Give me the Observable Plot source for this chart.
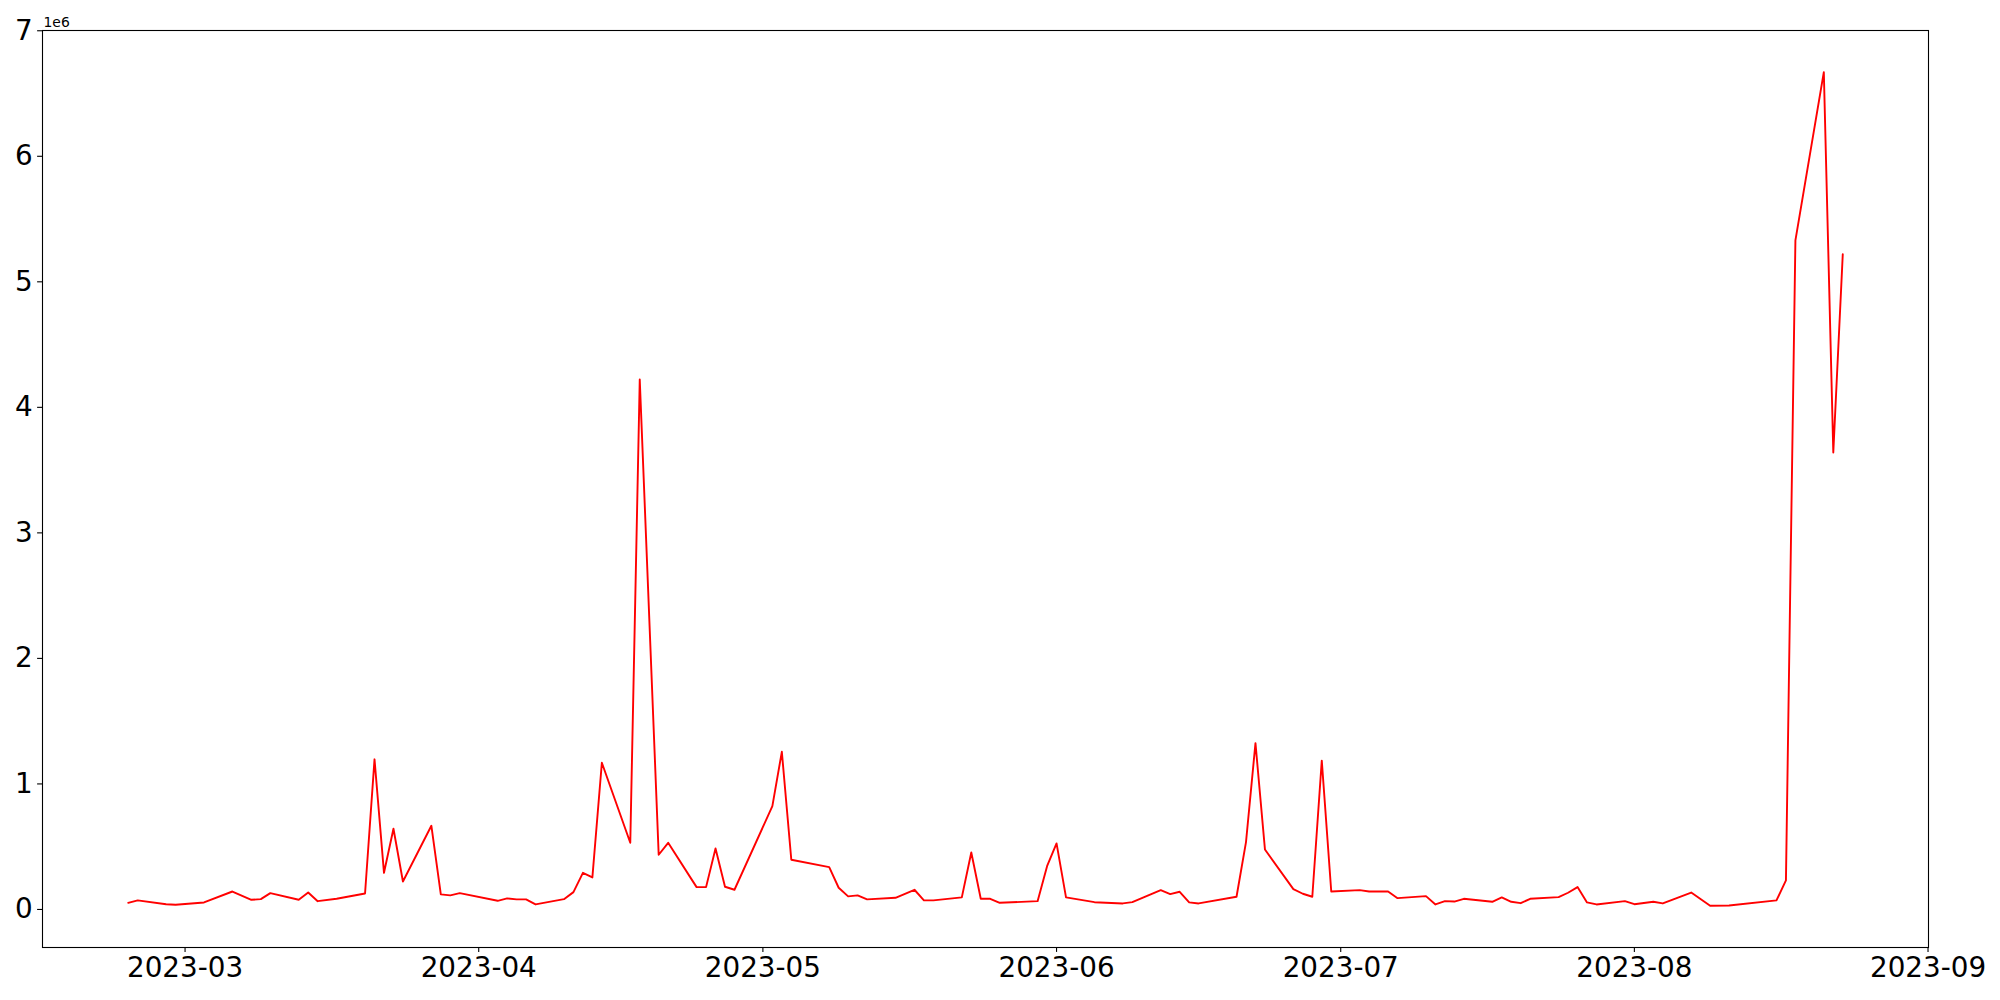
<!DOCTYPE html>
<html>
<head>
<meta charset="utf-8">
<script src="https://cdn.jsdelivr.net/npm/d3@7"></script>
<script src="https://cdn.jsdelivr.net/npm/@observablehq/plot@0.6"></script>
<style>
  html, body { margin: 0; padding: 0; background: #fff; }
  #chart svg { display: block; }
</style>
</head>
<body>
<div id="chart"></div>
<script>
// Dates of observations (weekday samples visible as vertices in the line)
const dates = [
  "2023-02-23","2023-02-24","2023-02-27","2023-02-28","2023-03-03","2023-03-06","2023-03-08","2023-03-09","2023-03-10",
  "2023-03-13","2023-03-14","2023-03-15","2023-03-17","2023-03-20","2023-03-21","2023-03-22","2023-03-23","2023-03-24",
  "2023-03-27","2023-03-28","2023-03-29","2023-03-30","2023-04-03","2023-04-04","2023-04-05","2023-04-06","2023-04-07",
  "2023-04-10","2023-04-11","2023-04-12","2023-04-13","2023-04-14","2023-04-17","2023-04-18","2023-04-20","2023-04-21",
  "2023-04-24","2023-04-25","2023-04-26","2023-04-27","2023-04-28","2023-05-02","2023-05-03","2023-05-04","2023-05-08",
  "2023-05-09","2023-05-10","2023-05-11","2023-05-12","2023-05-15","2023-05-17","2023-05-18","2023-05-19","2023-05-22",
  "2023-05-23","2023-05-24","2023-05-25","2023-05-26","2023-05-30","2023-05-31","2023-06-01","2023-06-02","2023-06-05",
  "2023-06-08","2023-06-09","2023-06-12","2023-06-13","2023-06-14","2023-06-15","2023-06-16","2023-06-20","2023-06-21",
  "2023-06-22","2023-06-23","2023-06-26","2023-06-27","2023-06-28","2023-06-29","2023-06-30","2023-07-03","2023-07-04",
  "2023-07-06","2023-07-07","2023-07-10","2023-07-11","2023-07-12","2023-07-13","2023-07-14","2023-07-17","2023-07-18",
  "2023-07-19","2023-07-20","2023-07-21","2023-07-24","2023-07-25","2023-07-26","2023-07-27","2023-07-28","2023-07-31",
  "2023-08-01","2023-08-03","2023-08-04","2023-08-07","2023-08-09","2023-08-11","2023-08-16","2023-08-17","2023-08-18",
  "2023-08-21","2023-08-22","2023-08-23"
];
const values = [
  53000, 72000, 42000, 37000, 56000, 143000, 77000, 82000, 130000,
  77000, 135000, 66000, 85000, 127000, 1196000, 292000, 643000, 223000,
  667000, 120000, 112000, 130000, 69000, 88000, 80000, 80000, 40000,
  82000, 138000, 292000, 255000, 1169000, 531000, 4222000, 436000, 531000,
  178000, 178000, 486000, 181000, 157000, 823000, 1256000, 396000, 337000,
  173000, 104000, 112000, 80000, 93000, 157000, 72000, 72000, 96000,
  454000, 85000, 85000, 53000, 66000, 345000, 526000, 96000, 58000,
  48000, 58000, 154000, 122000, 141000, 56000, 48000, 101000, 537000,
  1325000, 478000, 162000, 125000, 101000, 1186000, 143000, 154000, 143000,
  143000, 90000, 106000, 40000, 66000, 63000, 85000, 61000, 96000,
  61000, 50000, 85000, 98000, 133000, 178000, 56000, 40000, 66000,
  42000, 61000, 48000, 135000, 29000, 32000, 72000, 231000, 5330000,
  6670000, 3640000, 5220000
];
const xTickLabels = ["2023-03","2023-04","2023-05","2023-06","2023-07","2023-08","2023-09"];
const yTicks = [0, 1, 2, 3, 4, 5, 6, 7];
const offsetLabel = "1e6";

const data = dates.map((d, i) => ({date: new Date(d + "T00:00:00Z"), value: values[i]}));
const t0 = data[0].date.getTime(), t1 = data[data.length - 1].date.getTime();
const xm = (t1 - t0) * 0.05;
const vmin = d3.min(values), vmax = d3.max(values);
const ym = (vmax - vmin) * 0.05;

const chart = Plot.plot({
  width: 2000,
  height: 1000,
  marginLeft: 42,
  marginRight: 72,
  marginTop: 30,
  marginBottom: 53,
  style: {fontFamily: "DejaVu Sans", fontSize: "27.8px", color: "black", background: "white"},
  x: {type: "utc", domain: [new Date(t0 - xm), new Date(t1 + xm)]},
  y: {domain: [vmin - ym, vmax + ym]},
  marks: [
    Plot.line(data, {x: "date", y: "value", stroke: "#ff0000", strokeWidth: 1.9, strokeLinejoin: "round"}),
    Plot.frame({stroke: "black", strokeWidth: 1.1}),
    Plot.axisX({
      ticks: xTickLabels.map(s => new Date(s + "-01T00:00:00Z")),
      tickFormat: d3.utcFormat("%Y-%m"),
      tickSize: 4.9, tickPadding: 4.9, strokeWidth: 1.1, label: null, fontSize: 27.8
    }),
    Plot.axisY({
      ticks: yTicks.map(v => v * 1e6),
      tickFormat: d => String(Math.round(d / 1e6)),
      tickSize: 4.9, tickPadding: 4.9, strokeWidth: 1.1, label: null, fontSize: 27.8
    }),
    Plot.text([offsetLabel], {
      text: d => d, frameAnchor: "top-left", textAnchor: "start", lineAnchor: "bottom",
      dx: 1, dy: -4, fontSize: 13.9
    })
  ]
});
document.getElementById("chart").appendChild(chart);
</script>
</body>
</html>
